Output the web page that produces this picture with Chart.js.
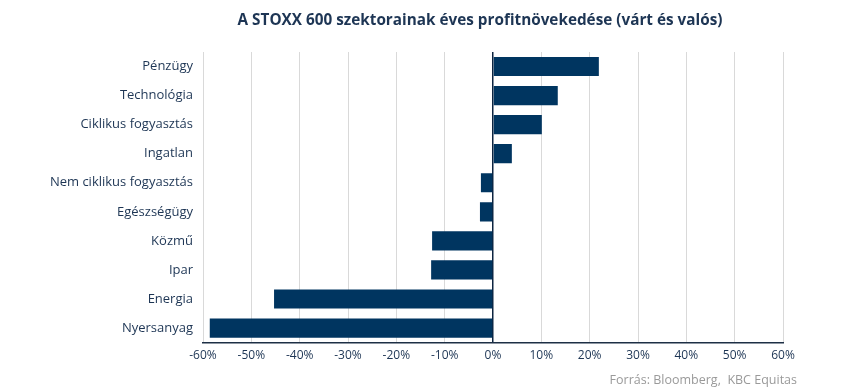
<!DOCTYPE html>
<html>
<head>
<meta charset="utf-8">
<script src="https://cdn.jsdelivr.net/npm/chart.js@4/dist/chart.umd.min.js"></script>
<style>
  body { margin: 0; background: #fff; }
  #wrap { width: 850px; height: 392px; }
</style>
</head>
<body>
<div id="wrap"><canvas id="barChart"></canvas></div>
<script>
const sectors = ['Pénzügy', 'Technológia', 'Ciklikus fogyasztás', 'Ingatlan', 'Nem ciklikus fogyasztás',
    'Egészségügy', 'Közmű', 'Ipar', 'Energia', 'Nyersanyag'];
const growth = [21.9, 13.4, 10.1, 3.9, -2.5, -2.7, -12.6, -12.8, -45.3, -58.6];
const xTicks = [-60, -50, -40, -30, -20, -10, 0, 10, 20, 30, 40, 50, 60];

const titleText = 'A STOXX 600 szektorainak éves profitnövekedése (várt és valós)';
const sourceText = 'Forrás: Bloomberg,  KBC Equitas';

const navy = '#003560';
const textColor = '#1d3554';

// title and source line, drawn by hand so they sit where the original has them
const textPlugin = {
    id: 'texts',
    afterDraw(chart) {
        const c = chart.ctx;
        c.save();
        c.fillStyle = textColor;
        c.font = 'bold 15.3px "Open Sans"';
        c.textAlign = 'center';
        c.textBaseline = 'middle';
        c.fillText(titleText, 480, 21);
        c.fillStyle = '#9a9a9a';
        c.font = '12.5px "Open Sans"';
        c.textAlign = 'right';
        c.fillText(sourceText, 797, 380);
        c.restore();
    }
};

const ctx = document.getElementById('barChart').getContext('2d');
const myChart = new Chart(ctx, {
    type: 'bar',
    data: {
        labels: sectors,
        datasets: [{
            label: 'Profitnövekedés',
            data: growth,
            backgroundColor: navy,
            borderWidth: 0,
            categoryPercentage: 1,
            barPercentage: 0.66
        }]
    },
    options: {
        indexAxis: 'y',
        responsive: true,
        maintainAspectRatio: false,
        animation: false,
        layout: { padding: { left: 0, right: 67, top: 52, bottom: 23 } },
        plugins: {
            legend: { display: false },
            tooltip: { enabled: false },
            title: { display: false }
        },
        scales: {
            x: {
                min: -60,
                max: 60,
                afterBuildTicks: (scale) => { scale.ticks = xTicks.map(v => ({ value: v })); },
                ticks: {
                    color: textColor,
                    font: { family: 'Open Sans', size: 12 },
                    padding: 6,
                    callback: (v) => v + '%'
                },
                grid: {
                    drawTicks: false,
                    color: (c) => c.tick && c.tick.value === 0 ? '#0d2440' : '#d9d9d9',
                    lineWidth: (c) => c.tick && c.tick.value === 0 ? 1.5 : 1
                },
                border: { display: true, color: '#1d2f45', width: 1.5 }
            },
            y: {
                afterFit: (scale) => { scale.width = 203; },
                ticks: {
                    color: textColor,
                    font: { family: 'Open Sans', size: 13 },
                    padding: 10
                },
                grid: { display: false, drawTicks: false },
                border: { display: false }
            }
        }
    },
    plugins: [textPlugin]
});
</script>
</body>
</html>
